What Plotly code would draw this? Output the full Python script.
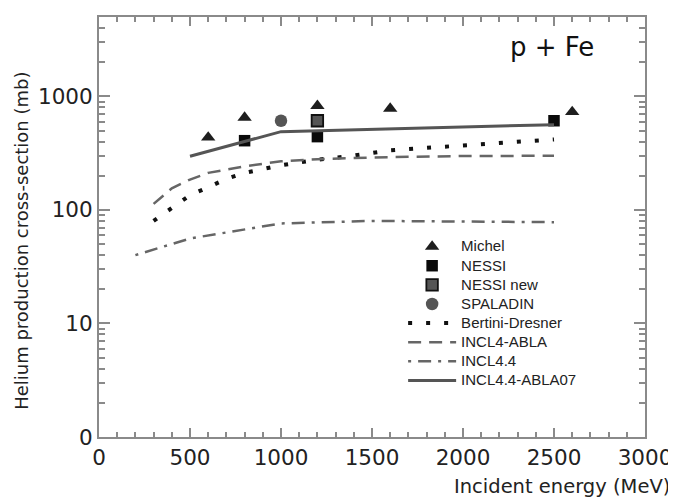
import plotly.graph_objects as go

# ---------------- data ----------------
michel_e = [600, 800, 1200, 1600, 2600]
michel_xs = [435, 650, 825, 780, 730]

nessi_e = [800, 1200, 2500]
nessi_xs = [407, 442, 610]

nessi_new_e = [1200]
nessi_new_xs = [610]

spaladin_e = [1000]
spaladin_xs = [610]

bertini_e = [300, 400, 500, 600, 700, 800, 900, 1000, 1200, 1400, 1600, 1800, 2000, 2200, 2500]
bertini_xs = [80, 104, 135, 158, 188, 212, 230, 247, 277, 301, 335, 351, 368, 389, 418]

incl4abla_e = [300, 400, 500, 600, 800, 1000, 1200, 1600, 2000, 2500]
incl4abla_xs = [113, 155, 185, 212, 242, 268, 280, 292, 298, 300]

incl44_e = [200, 500, 1000, 1500, 2000, 2500]
incl44_xs = [40, 56, 76, 80, 79, 78]

abla07_e = [500, 1000, 2500]
abla07_xs = [297, 489, 563]

series_names = ["Michel", "NESSI", "NESSI new", "SPALADIN", "Bertini-Dresner",
                "INCL4-ABLA", "INCL4.4", "INCL4.4-ABLA07"]

y_tickvals = [1, 10, 100, 1000]
y_ticktext = ["0", "10", "100", "1000"]
x_tickvals = [0, 500, 1000, 1500, 2000, 2500, 3000]


def label(name):
    # legend text drawn a little larger than the row spacing font
    return '<span style="font-size:15px">' + name + "</span>"


# ---------------- figure ----------------
fig = go.Figure()

fig.add_trace(go.Scatter(x=michel_e, y=michel_xs, mode="markers", name=label(series_names[0]),
                         marker=dict(symbol="triangle-up", size=12.5, color="#1e1e1e")))
fig.add_trace(go.Scatter(x=nessi_e, y=nessi_xs, mode="markers", name=label(series_names[1]),
                         marker=dict(symbol="square", size=11.5, color="#0a0a0a")))
fig.add_trace(go.Scatter(x=nessi_new_e, y=nessi_new_xs, mode="markers",
                         name=label(series_names[2]),
                         marker=dict(symbol="square", size=11.5, color="#555555",
                                     line=dict(color="#111111", width=1.8))))
fig.add_trace(go.Scatter(x=spaladin_e, y=spaladin_xs, mode="markers",
                         name=label(series_names[3]),
                         marker=dict(symbol="circle", size=12.5, color="#555555")))
fig.add_trace(go.Scatter(x=bertini_e, y=bertini_xs, mode="lines", name=label(series_names[4]),
                         line=dict(color="#111111", width=4, dash="4px,14px")))
fig.add_trace(go.Scatter(x=incl4abla_e, y=incl4abla_xs, mode="lines",
                         name=label(series_names[5]),
                         line=dict(color="#666666", width=2.5, dash="13px,8px")))
fig.add_trace(go.Scatter(x=incl44_e, y=incl44_xs, mode="lines", name=label(series_names[6]),
                         line=dict(color="#666666", width=2.5, dash="3px,7px,13px,7px")))
fig.add_trace(go.Scatter(x=abla07_e, y=abla07_xs, mode="lines", name=label(series_names[7]),
                         line=dict(color="#555555", width=3)))

axis_col = "#8a8a8a"
tick_font = dict(family="DejaVu Sans", size=21.5, color="#222222")

fig.update_xaxes(range=[0, 3000], tickvals=x_tickvals, ticks="inside", ticklen=9,
                 tickwidth=1.5, tickcolor=axis_col, showline=True, linecolor=axis_col,
                 linewidth=2, mirror="allticks", showgrid=False, zeroline=False,
                 tickfont=tick_font,
                 minor=dict(ticks="inside", ticklen=5, dtick=100, tickcolor=axis_col,
                            tickwidth=1.5, showgrid=False))

minor_y = [m * 10 ** k for k in range(0, 4) for m in range(2, 10) if m * 10 ** k <= 5000]
fig.update_yaxes(type="log", range=[0, 3.69897], tickvals=y_tickvals, ticktext=y_ticktext,
                 ticks="inside", ticklen=11, tickwidth=1.5, tickcolor=axis_col,
                 showline=True, linecolor=axis_col, linewidth=2, mirror="allticks",
                 showgrid=False, zeroline=False, tickfont=tick_font,
                 minor=dict(ticks="inside", ticklen=6, tickvals=minor_y, tickcolor=axis_col,
                            tickwidth=1.5, showgrid=False))

fig.update_layout(
    width=676, height=489,
    margin=dict(l=91, r=39, t=7, b=60),
    plot_bgcolor="white", paper_bgcolor="white",
    showlegend=True,
    legend=dict(x=0.557, y=0.488, xanchor="left", yanchor="top",
                font=dict(family="Liberation Sans, Arial", size=12.4, color="#222222"),
                bgcolor="rgba(0,0,0,0)", tracegroupgap=0, itemwidth=48),
    annotations=[
        dict(text="p + Fe", xref="paper", yref="paper", x=0.911, y=0.928,
             xanchor="right", yanchor="middle", showarrow=False,
             font=dict(family="DejaVu Sans", size=26, color="#111111")),
        dict(text="Helium production cross-section (mb)", xref="paper", yref="paper",
             x=-0.141, y=0.467, xanchor="center", yanchor="middle", textangle=-90,
             showarrow=False, font=dict(family="DejaVu Sans", size=18, color="#222222")),
        dict(text="Incident energy (MeV)", xref="paper", yref="paper",
             x=1.05, y=-0.1185, xanchor="right", yanchor="middle", showarrow=False,
             font=dict(family="DejaVu Sans", size=19.5, color="#222222")),
    ],
)

fig.write_html("out.html")
